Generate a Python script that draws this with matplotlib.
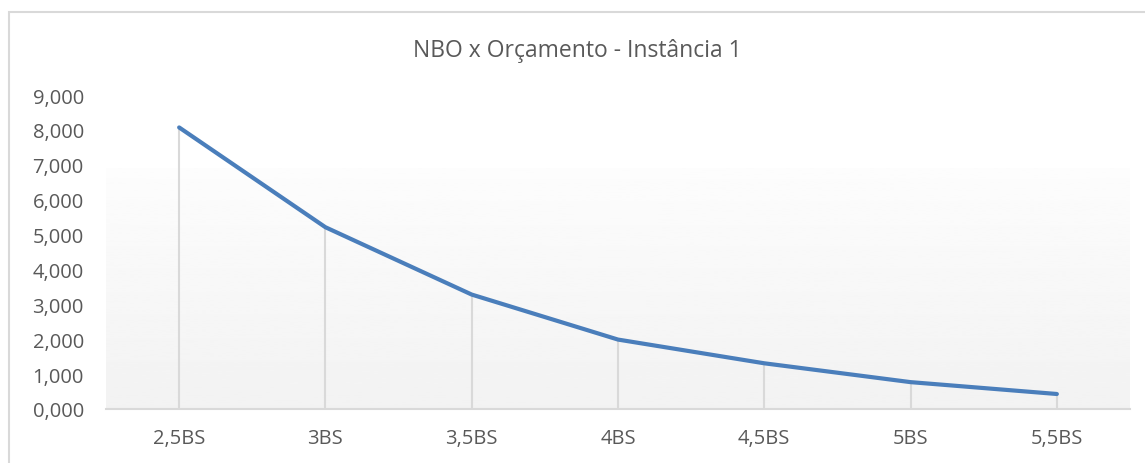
import numpy as np
import matplotlib
matplotlib.use("Agg")
import matplotlib.pyplot as plt
from matplotlib.patches import Rectangle

# Dados
categorias = ["2,5BS", "3BS", "3,5BS", "4BS", "4,5BS", "5BS", "5,5BS"]
nbo = [8.07, 5.21, 3.28, 1.99, 1.31, 0.77, 0.43]
y_ticks = [0, 1, 2, 3, 4, 5, 6, 7, 8, 9]

plt.rcParams["font.family"] = ["Open Sans", "DejaVu Sans"]
cinza = "#595959"

fig = plt.figure(figsize=(11.45, 4.64), dpi=100)
ax = fig.add_axes([106 / 1145, 1 - 410 / 464, (1130 - 106) / 1145, (410 - 96) / 464])

# borda da área do gráfico
fig.patches.append(Rectangle((9 / 1145, -0.1), 1.2, 1.1 - 13 / 464, transform=fig.transFigure,
                             fill=False, edgecolor="#d9d9d9", linewidth=1.5))

x = np.arange(len(categorias))

# fundo em degradê
grad = np.linspace(0.949, 0.99, 100).reshape(-1, 1)
ax.imshow(grad, cmap="gray", vmin=0, vmax=1, origin="lower", aspect="auto",
          extent=[-0.5, len(categorias) - 0.5, 0, 6.88], zorder=0)

# linhas de projeção
ax.vlines(x, 0, nbo, color="#d9d9d9", linewidth=1.5, zorder=1)
ax.plot(x, nbo, color="#4a7ebb", linewidth=3, solid_capstyle="round", zorder=3)

ax.set_xlim(-0.5, len(categorias) - 0.5)
ax.set_ylim(0, 9)
ax.set_xticks(x)
ax.set_xticklabels(categorias)
ax.set_yticks(y_ticks)
ax.set_yticklabels([f"{v:.3f}".replace(".", ",") for v in y_ticks])
ax.tick_params(axis="both", length=0, labelsize=14.5, colors=cinza)
ax.tick_params(axis="x", pad=14)
ax.tick_params(axis="y", pad=16)

for s in ["top", "right", "left"]:
    ax.spines[s].set_visible(False)
ax.spines["bottom"].set_color("#d9d9d9")
ax.spines["bottom"].set_linewidth(1.5)
ax.set_facecolor("white")

fig.text(577 / 1145, 1 - 51 / 464, "NBO x Orçamento - Instância 1", ha="center", va="center",
         fontsize=16.5, color=cinza)

fig.savefig("out.png", dpi=100)
